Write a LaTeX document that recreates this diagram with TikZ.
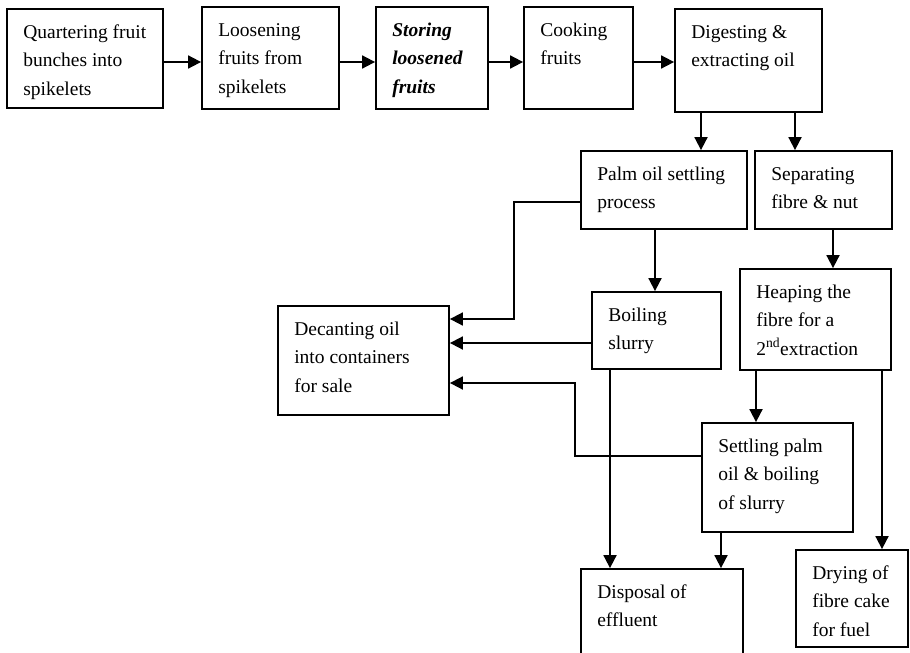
\documentclass[tikz,border=0pt]{standalone}
\usepackage{fontspec}
\setmainfont{Liberation Serif}
\usetikzlibrary{arrows.meta,fit}

% lines of a process label, first baseline on the node baseline
\newcommand\proclines[1]{\begin{tabular}[t]{@{}l@{}}#1\end{tabular}}
% process box: name, left, top, right, bottom, text
\newcommand\procbox[6]{%
  \node[pbox, fit={(#2,#3) (#4,#5)}] (#1) {};
  \node[ptext] (#1-t) at ([xshift=17pt,yshift=-30pt]#1.north west) {\proclines{#6}};
}

\begin{document}
\begin{tikzpicture}[x=1pt,y=-1pt,
  pbox/.style={draw, line width=1.8pt, inner sep=0pt, rectangle},
  ptext/.style={anchor=base west, inner sep=0pt, font=\fontsize{19.5}{28.7}\selectfont},
  arr/.style={line width=1.8pt, -{Triangle[length=13pt,width=13pt]}}]
\useasboundingbox (0,0) rectangle (910,653);
\clip (0,0) rectangle (910,653);

% main line
\procbox{q}{7}{9}{163}{108}{Quartering fruit\\bunches into\\spikelets}
\procbox{l}{202}{7}{339}{109}{Loosening\\fruits from\\spikelets}
\procbox{s}{376}{7}{488}{109}{\textbf{\textit{Storing}}\\\textbf{\textit{loosened}}\\\textbf{\textit{fruits}}}
\procbox{c}{524}{7}{633}{109}{Cooking\\fruits}
\procbox{d}{675}{9}{822}{112}{Digesting \&\\extracting oil}

% oil and fibre branches
\procbox{palm}{581}{151}{747}{229}{Palm oil settling\\process}
\procbox{sep}{755}{151}{892}{229}{Separating\\fibre \& nut}
\procbox{dec}{278}{306}{449}{415}{Decanting oil\\into containers\\for sale}
\procbox{boil}{592}{292}{721}{369}{Boiling\\slurry}
\procbox{heap}{740}{269}{891}{370}{Heaping the\\fibre for a\\2\textsuperscript{nd}extraction}
\procbox{set}{702}{423}{853}{532}{Settling palm\\oil \& boiling\\of slurry}
\procbox{disp}{581}{569}{743}{672}{Disposal of\\effluent}
\procbox{dry}{796}{550}{908}{647}{Drying of\\fibre cake\\for fuel}

% connectors along the top row
\draw[arr] (q.east |- 0,62) -- (l.west |- 0,62);
\draw[arr] (l.east |- 0,62) -- (s.west |- 0,62);
\draw[arr] (s.east |- 0,62) -- (c.west |- 0,62);
\draw[arr] (c.east |- 0,62) -- (d.west |- 0,62);

% out of digestion
\draw[arr] (d.south -| 701,0) -- (palm.north -| 701,0);
\draw[arr] (d.south -| 795,0) -- (sep.north -| 795,0);

% oil side
\draw[arr] (palm.west |- 0,202) -- (514,202) |- (dec.east |- 0,319);
\draw[arr] (palm.south -| 655,0) -- (boil.north -| 655,0);
\draw[arr] (boil.west |- 0,343) -- (dec.east |- 0,343);
\draw[arr] (boil.south -| 610,0) -- (disp.north -| 610,0);
\draw[arr] (set.west |- 0,456) -- (575,456) |- (dec.east |- 0,383);
\draw[arr] (set.south -| 721,0) -- (disp.north -| 721,0);

% fibre side
\draw[arr] (sep.south -| 833,0) -- (heap.north -| 833,0);
\draw[arr] (heap.south -| 756,0) -- (set.north -| 756,0);
\draw[arr] (heap.south -| 882,0) -- (dry.north -| 882,0);
\end{tikzpicture}
\end{document}
